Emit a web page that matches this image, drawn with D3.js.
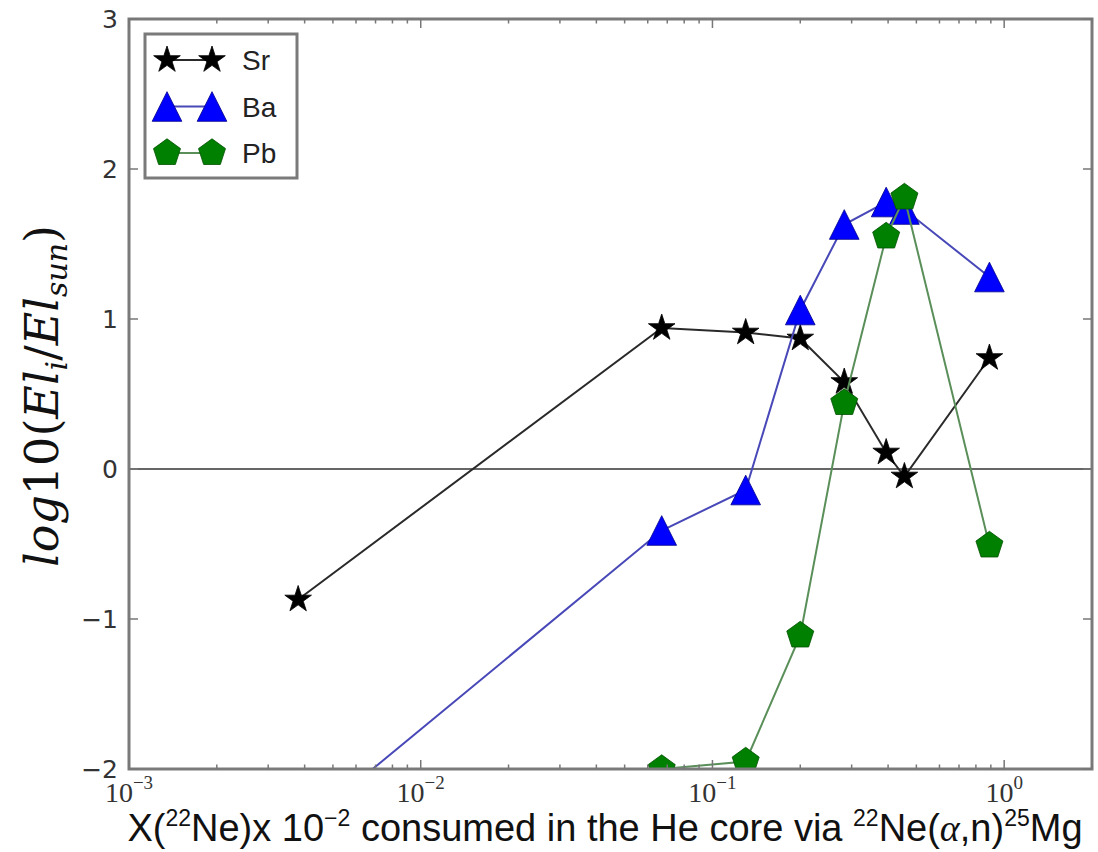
<!DOCTYPE html>
<html><head><meta charset="utf-8">
<script src="https://cdn.jsdelivr.net/npm/d3@7"></script>
<style>body{margin:0;background:#fff}</style>
</head><body><svg id="chart" width="1098" height="852"></svg>
<script>
// Fraction of 22Ne consumed (x 10^-2) and log abundance ratios per element
const consumed   = [0.0038, 0.067, 0.13, 0.2, 0.283, 0.394, 0.455, 0.89];
const srValues   = [-0.87, 0.94, 0.91, 0.87, 0.58, 0.11, -0.05, 0.74];
const baValues   = [-2.41, -0.41, -0.14, 1.06, 1.63, 1.78, 1.73, 1.28];
const pbConsumed = [0.067, 0.13, 0.2, 0.283, 0.394, 0.455, 0.89];
const pbValues   = [-2.0, -1.95, -1.11, 0.44, 1.55, 1.81, -0.51];
const seriesNames = ["Sr", "Ba", "Pb"];
const xTickValues = [1e-3, 1e-2, 1e-1, 1];
const xTickExponents = ["\u22123", "\u22122", "\u22121", "0"];
const yTickValues = [-2, -1, 0, 1, 2, 3];
const yTickLabels = ["\u22122", "\u22121", "0", "1", "2", "3"];

const svg = d3.select("#chart");
const plot = {left: 129, right: 1092, top: 19, bottom: 769};

const x = d3.scaleLog().domain([1e-3, 2]).range([plot.left, plot.right]);
const y = d3.scaleLinear().domain([-2, 3]).range([plot.bottom, plot.top]);

// marker shapes
const pentagon = {
  draw(ctx, size) {
    const r = Math.sqrt(size / 2.3776);
    for (let i = 0; i < 5; i++) {
      const a = -Math.PI / 2 + i * 2 * Math.PI / 5;
      const px = r * Math.cos(a), py = r * Math.sin(a);
      i ? ctx.lineTo(px, py) : ctx.moveTo(px, py);
    }
    ctx.closePath();
  }
};
const triangleUp = {
  draw(ctx, size) {
    const h = Math.sqrt(size * 2) / 2;
    ctx.moveTo(0, -h); ctx.lineTo(h, h); ctx.lineTo(-h, h); ctx.closePath();
  }
};

const series = [
  {name: seriesNames[0], xs: consumed,   ys: srValues, line: "#2a2a2a", fill: "#000000", edge: "#000000", sym: d3.symbolStar, size: 220},
  {name: seriesNames[1], xs: consumed,   ys: baValues, line: "#4848b8", fill: "#0000ff", edge: "#00008a", sym: triangleUp,  size: 440},
  {name: seriesNames[2], xs: pbConsumed, ys: pbValues, line: "#5a8f5a", fill: "#008000", edge: "#005000", sym: pentagon,    size: 480}
];

svg.append("defs").append("clipPath").attr("id", "plotClip")
  .append("rect").attr("x", plot.left).attr("y", plot.top)
  .attr("width", plot.right - plot.left).attr("height", plot.bottom - plot.top);

const inner = svg.append("g").attr("clip-path", "url(#plotClip)");

// horizontal reference at zero
inner.append("line")
  .attr("x1", plot.left).attr("x2", plot.right)
  .attr("y1", y(0)).attr("y2", y(0))
  .attr("stroke", "#666").attr("stroke-width", 2.2);

const lineGen = d3.line().x(d => x(d[0])).y(d => y(d[1]));

series.forEach(s => {
  const pts = s.xs.map((v, i) => [v, s.ys[i]]);
  inner.append("path").datum(pts)
    .attr("d", lineGen).attr("fill", "none")
    .attr("stroke", s.line).attr("stroke-width", 2);
  inner.selectAll(null).data(pts).enter().append("path")
    .attr("transform", d => `translate(${x(d[0])},${y(d[1])})`)
    .attr("d", d3.symbol().type(s.sym).size(s.size))
    .attr("fill", s.fill).attr("stroke", s.edge).attr("stroke-width", 0.8);
});

// frame
svg.append("rect")
  .attr("x", plot.left).attr("y", plot.top)
  .attr("width", plot.right - plot.left).attr("height", plot.bottom - plot.top)
  .attr("fill", "none").attr("stroke", "#7a7a7a").attr("stroke-width", 3);

// ticks on all four sides, pointing inward
const ticks = svg.append("g").attr("stroke", "#777").attr("stroke-width", 1.5);
const minor = [];
for (let e = -3; e <= 0; e++) for (let m = 2; m <= 9; m++) {
  const v = m * Math.pow(10, e);
  if (v <= 2) minor.push(v);
}
xTickValues.forEach(v => {
  ticks.append("line").attr("x1", x(v)).attr("x2", x(v)).attr("y1", plot.bottom).attr("y2", plot.bottom - 9);
  ticks.append("line").attr("x1", x(v)).attr("x2", x(v)).attr("y1", plot.top).attr("y2", plot.top + 9);
});
minor.forEach(v => {
  ticks.append("line").attr("x1", x(v)).attr("x2", x(v)).attr("y1", plot.bottom).attr("y2", plot.bottom - 4.5);
  ticks.append("line").attr("x1", x(v)).attr("x2", x(v)).attr("y1", plot.top).attr("y2", plot.top + 4.5);
});
yTickValues.forEach(v => {
  ticks.append("line").attr("x1", plot.left).attr("x2", plot.left + 9).attr("y1", y(v)).attr("y2", y(v));
  ticks.append("line").attr("x1", plot.right).attr("x2", plot.right - 9).attr("y1", y(v)).attr("y2", y(v));
});

// y tick labels
yTickValues.forEach((v, i) => {
  svg.append("text")
    .attr("x", plot.left - 11).attr("y", y(v) + 9)
    .attr("text-anchor", "end")
    .attr("font-family", "DejaVu Sans").attr("font-size", 25)
    .attr("fill", "#333").text(yTickLabels[i]);
});

// x tick labels, 10 with exponent
xTickValues.forEach((v, i) => {
  const t = svg.append("text")
    .attr("x", x(v)).attr("y", plot.bottom + 33)
    .attr("text-anchor", "middle")
    .attr("font-family", "Liberation Serif").attr("font-size", 28)
    .attr("fill", "#333");
  t.append("tspan").text("10");
  t.append("tspan").attr("font-size", 19).attr("dy", -13).text(xTickExponents[i]);
});

// x axis title
const xt = svg.append("text")
  .attr("x", 605).attr("y", 841).attr("text-anchor", "middle")
  .attr("font-family", "Liberation Sans").attr("font-size", 38).attr("fill", "#111");
const supX = (txt) => {
  xt.append("tspan").attr("font-size", 23).attr("dy", -15).text(txt);
};
xt.append("tspan").text("X(");
supX("22");
xt.append("tspan").attr("dy", 15).text("Ne)x 10");
supX("\u22122");
xt.append("tspan").attr("dy", 15).text(" consumed in the He core via ");
supX("22");
xt.append("tspan").attr("dy", 15).text("Ne(");
xt.append("tspan").attr("font-family", "Liberation Serif").attr("font-style", "italic").text("\u03b1");
xt.append("tspan").text(",n)");
supX("25");
xt.append("tspan").attr("dy", 15).text("Mg");

// y axis title
const yt = svg.append("text")
  .attr("transform", "translate(58,396) rotate(-90)")
  .attr("text-anchor", "middle")
  .attr("font-family", "DejaVu Serif").attr("font-size", 46).attr("fill", "#111");
yt.append("tspan").attr("font-style", "italic").text("log");
yt.append("tspan").text("10(");
yt.append("tspan").attr("font-style", "italic").text("El");
yt.append("tspan").attr("font-style", "italic").attr("font-size", 30).attr("dy", 9).text("i");
yt.append("tspan").attr("dy", -9).text("/");
yt.append("tspan").attr("font-style", "italic").text("El");
yt.append("tspan").attr("font-style", "italic").attr("font-size", 30).attr("dy", 9).text("sun");
yt.append("tspan").attr("dy", -9).text(")");

// legend
const legend = svg.append("g");
legend.append("rect").attr("x", 145).attr("y", 34).attr("width", 152).attr("height", 144)
  .attr("fill", "#fff").attr("stroke", "#7a7a7a").attr("stroke-width", 3);
series.forEach((s, i) => {
  const ly = 60 + i * 46.5;
  legend.append("line").attr("x1", 167).attr("x2", 212).attr("y1", ly).attr("y2", ly)
    .attr("stroke", s.line).attr("stroke-width", 2);
  [167, 212].forEach(lx => {
    legend.append("path").attr("transform", `translate(${lx},${ly})`)
      .attr("d", d3.symbol().type(s.sym).size(s.size))
      .attr("fill", s.fill).attr("stroke", s.edge).attr("stroke-width", 0.8);
  });
  legend.append("text").attr("x", 242).attr("y", ly + 10)
    .attr("font-family", "Liberation Sans").attr("font-size", 28).attr("fill", "#222")
    .text(s.name);
});
</script>
</body></html>
